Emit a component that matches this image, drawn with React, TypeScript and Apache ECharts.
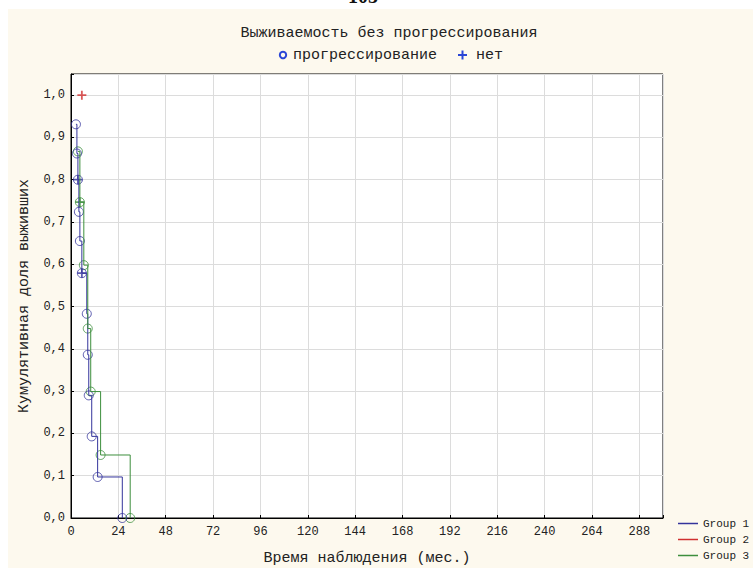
import React, { useEffect, useRef } from "react";
import * as echarts from "echarts";

// ---- data ----
const xTickStep = 24;
const xMax = 300;
const yMax = 1.05;
const yTickStep = 0.1;

const group1Time = [2.5, 3, 3.5, 4, 4.5, 5.5, 8, 8.5, 9, 10.5, 13.5, 26];
const group1Surv = [0.931, 0.862, 0.8, 0.724, 0.655, 0.579, 0.483, 0.386, 0.29, 0.193, 0.097, 0];
const group1CensTime = [3.5, 5.5];
const group1CensSurv = [0.8, 0.579];

const group2CensTime = [5.5];
const group2CensSurv = [1.0];

const group3Time = [3.5, 4.5, 6.5, 8.5, 10, 15, 30];
const group3Surv = [0.867, 0.747, 0.598, 0.448, 0.299, 0.149, 0];
const group3CensTime = [4.5];
const group3CensSurv = [0.747];

const groupNames = ["Group 1", "Group 2", "Group 3"];
const titleText = "Выживаемость без прогрессирования";
const legendEvent = "прогрессирование";
const legendCensored = "нет";
const xName = "Время наблюдения (мес.)";
const yName = "Кумулятивная доля выживших";

const FONT = "'Liberation Mono', 'DejaVu Sans Mono', monospace";
const C1 = "#34349c";
const C2 = "#d03030";
const C3 = "#3d8f3d";
const PLUS = "path://M4,0H6V4H10V6H6V10H4V6H0V4H4Z";

const pairs = (t: number[], s: number[]) => t.map((v, i) => [v, s[i]]);

export default function App() {
  const ref = useRef<HTMLDivElement>(null);
  useEffect(() => {
    document.body.style.margin = "0";
    const chart = echarts.init(ref.current!, null, { renderer: "svg" });
    const circleStyle = (c: string) => ({ color: "transparent", borderColor: c, borderWidth: 1 });
    const option: any = {
      animation: false,
      backgroundColor: "#fdf9ee",
      title: {
        text: titleText,
        left: 384,
        textAlign: "center",
        top: 21,
        textStyle: { fontFamily: FONT, fontSize: 15, fontWeight: "normal", color: "#222" },
      },
      legend: {
        data: groupNames,
        orient: "vertical",
        left: 673,
        top: 513,
        itemWidth: 20,
        itemHeight: 1.5,
        itemGap: 5,
        icon: "rect",
        textStyle: { fontFamily: FONT, fontSize: 11, color: "#222" },
      },
      grid: {
        left: 71,
        top: 74,
        width: 592,
        height: 444,
        outerBoundsMode: "none",
        containLabel: false,
        show: true,
        backgroundColor: "#ffffff",
        borderColor: "#000",
        borderWidth: 1,
      },
      xAxis: {
        type: "value",
        min: 0,
        max: xMax,
        interval: xTickStep,
        name: xName,
        nameLocation: "middle",
        nameGap: 33,
        nameTextStyle: { fontFamily: FONT, fontSize: 15, color: "#222" },
        axisLine: { show: true, lineStyle: { color: "#000" } },
        axisTick: { show: true, inside: true, length: 3, lineStyle: { color: "#000" } },
        splitLine: { show: true, lineStyle: { color: "#dcdcdc" } },
        axisLabel: {
          fontFamily: FONT,
          fontSize: 12,
          color: "#222",
          margin: 8,
          formatter: (v: number) => (Math.abs(v % xTickStep) < 1e-6 ? String(v) : ""),
        },
      },
      yAxis: {
        type: "value",
        min: 0,
        max: yMax,
        interval: yTickStep,
        name: yName,
        nameLocation: "middle",
        nameRotate: 90,
        nameGap: 39,
        nameTextStyle: { fontFamily: FONT, fontSize: 15, color: "#222" },
        axisLine: { show: true, lineStyle: { color: "#000" } },
        axisTick: { show: true, inside: true, length: 3, lineStyle: { color: "#000" } },
        splitLine: { show: true, lineStyle: { color: "#dcdcdc" } },
        axisLabel: {
          fontFamily: FONT,
          fontSize: 12,
          color: "#222",
          margin: 6,
          formatter: (v: number) =>
            Math.abs(v * 10 - Math.round(v * 10)) < 1e-6 ? v.toFixed(1).replace(".", ",") : "",
        },
      },
      series: [
        {
          name: groupNames[0],
          type: "line",
          step: "end",
          data: pairs(group1Time, group1Surv),
          symbol: "none",
          color: C1,
          lineStyle: { width: 1, color: C1 },
        },
        {
          name: groupNames[1],
          type: "line",
          step: "end",
          data: [],
          symbol: "none",
          color: C2,
          lineStyle: { width: 1, color: C2 },
        },
        {
          name: groupNames[2],
          type: "line",
          step: "end",
          data: pairs(group3Time, group3Surv),
          symbol: "none",
          color: C3,
          lineStyle: { width: 1, color: C3 },
        },
        {
          name: "g3 events",
          type: "scatter",
          data: pairs(group3Time, group3Surv),
          symbol: "circle",
          symbolSize: 9,
          itemStyle: circleStyle(C3),
        },
        {
          name: "g3 censored",
          type: "scatter",
          data: pairs(group3CensTime, group3CensSurv),
          symbol: PLUS,
          symbolSize: 9,
          itemStyle: { color: C3 },
        },
        {
          name: "g1 events",
          type: "scatter",
          data: pairs(group1Time, group1Surv),
          symbol: "circle",
          symbolSize: 9,
          itemStyle: circleStyle(C1),
        },
        {
          name: "g1 censored",
          type: "scatter",
          data: pairs(group1CensTime, group1CensSurv),
          symbol: PLUS,
          symbolSize: 9,
          itemStyle: { color: C1 },
        },
        {
          name: "g2 censored",
          type: "scatter",
          data: pairs(group2CensTime, group2CensSurv),
          symbol: PLUS,
          symbolSize: 9,
          itemStyle: { color: C2 },
        },
      ],
      graphic: [
        { type: "rect", shape: { x: 0, y: 0, width: 753, height: 9 }, style: { fill: "#ffffff" }, z: 100 },
        { type: "rect", shape: { x: 0, y: 0, width: 8, height: 568 }, style: { fill: "#ffffff" }, z: 100 },
        {
          type: "text",
          x: 363,
          y: -4,
          z: 101,
          style: {
            text: "105",
            fontFamily: "'Liberation Serif', serif",
            fontSize: 20,
            fontWeight: "bold",
            fill: "#111",
            align: "center",
            verticalAlign: "middle",
          },
        },
        {
          type: "circle",
          shape: { cx: 283, cy: 55, r: 3.2 },
          style: { fill: "none", stroke: "#2a46d6", lineWidth: 2 },
        },
        {
          type: "text",
          x: 293,
          y: 55,
          style: { text: legendEvent, fontFamily: FONT, fontSize: 15, fill: "#222", verticalAlign: "middle" },
        },
        { type: "rect", shape: { x: 458, y: 54, width: 9, height: 2 }, style: { fill: "#2a46d6" } },
        { type: "rect", shape: { x: 461.5, y: 50.5, width: 2, height: 9 }, style: { fill: "#2a46d6" } },
        {
          type: "text",
          x: 476,
          y: 55,
          style: { text: legendCensored, fontFamily: FONT, fontSize: 15, fill: "#222", verticalAlign: "middle" },
        },
      ],
    };
    chart.setOption(option);
    return () => chart.dispose();
  }, []);
  return <div ref={ref} style={{ width: 753, height: 568 }} />;
}
